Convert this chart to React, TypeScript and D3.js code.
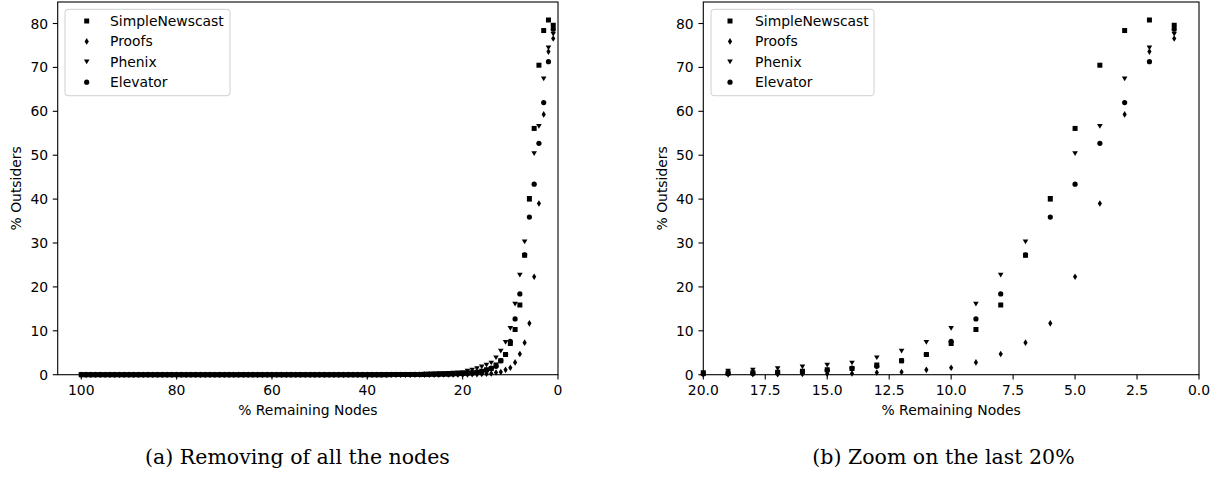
import React from 'react';
import * as d3 from 'd3';

// % remaining nodes, 1..100
const nodes = d3.range(1, 101);

// values listed for nodes = 1, 2, 3, ... 100
const simpleNewscast = [
  79.6, 80.8, 78.4, 70.5, 56.1, 40.0, 27.2, 15.9, 10.3, 7.1,
  4.6, 3.2, 2.2, 1.4, 1.1, 0.8, 0.55, 0.45, 0.4, 0.3,
  0.25, 0.2, 0.18, 0.15, 0.12, 0.1, 0.08, 0.07, 0.06, 0.05,
  0.04, 0.03, 0.03, 0.02, 0.02, 0.01, 0.01, 0.01, 0.01, 0.01,
  0, 0, 0, 0, 0, 0, 0, 0, 0, 0,
  0, 0, 0, 0, 0, 0, 0, 0, 0, 0,
  0, 0, 0, 0, 0, 0, 0, 0, 0, 0,
  0, 0, 0, 0, 0, 0, 0, 0, 0, 0,
  0, 0, 0, 0, 0, 0, 0, 0, 0, 0,
  0, 0, 0, 0, 0, 0, 0, 0, 0, 0,
];
const proofs = [
  76.6, 73.6, 59.3, 39.0, 22.3, 11.7, 7.3, 4.7, 2.8, 1.6,
  1.1, 0.6, 0.5, 0.3, 0.2, 0.15, 0.1, 0.1, 0.05, 0.05,
  0.04, 0.04, 0.03, 0.03, 0.02, 0.02, 0.02, 0.01, 0.01, 0.01,
  0, 0, 0, 0, 0, 0, 0, 0, 0, 0,
  0, 0, 0, 0, 0, 0, 0, 0, 0, 0,
  0, 0, 0, 0, 0, 0, 0, 0, 0, 0,
  0, 0, 0, 0, 0, 0, 0, 0, 0, 0,
  0, 0, 0, 0, 0, 0, 0, 0, 0, 0,
  0, 0, 0, 0, 0, 0, 0, 0, 0, 0,
  0, 0, 0, 0, 0, 0, 0, 0, 0, 0,
];
const phenix = [
  77.6, 74.5, 67.4, 56.6, 50.4, 40.2, 30.3, 22.7, 16.1, 10.6,
  7.4, 5.4, 3.9, 2.7, 2.2, 1.8, 1.4, 1.1, 0.85, 0.5,
  0.45, 0.4, 0.35, 0.3, 0.26, 0.22, 0.19, 0.16, 0.14, 0.12,
  0.1, 0.08, 0.07, 0.06, 0.05, 0.04, 0.03, 0.03, 0.02, 0.02,
  0, 0, 0, 0, 0, 0, 0, 0, 0, 0,
  0, 0, 0, 0, 0, 0, 0, 0, 0, 0,
  0, 0, 0, 0, 0, 0, 0, 0, 0, 0,
  0, 0, 0, 0, 0, 0, 0, 0, 0, 0,
  0, 0, 0, 0, 0, 0, 0, 0, 0, 0,
  0, 0, 0, 0, 0, 0, 0, 0, 0, 0,
];
const elevator = [
  78.7, 71.3, 62.0, 52.7, 43.4, 35.9, 27.3, 18.4, 12.7, 7.6,
  4.6, 3.2, 1.9, 1.5, 1.0, 0.7, 0.45, 0.35, 0.3, 0.2,
  0.18, 0.15, 0.13, 0.11, 0.09, 0.08, 0.07, 0.06, 0.05, 0.04,
  0.03, 0.03, 0.02, 0.02, 0.01, 0.01, 0.01, 0.01, 0.01, 0.01,
  0, 0, 0, 0, 0, 0, 0, 0, 0, 0,
  0, 0, 0, 0, 0, 0, 0, 0, 0, 0,
  0, 0, 0, 0, 0, 0, 0, 0, 0, 0,
  0, 0, 0, 0, 0, 0, 0, 0, 0, 0,
  0, 0, 0, 0, 0, 0, 0, 0, 0, 0,
  0, 0, 0, 0, 0, 0, 0, 0, 0, 0,
];

const seriesNames = ['SimpleNewscast', 'Proofs', 'Phenix', 'Elevator'];
const seriesValues = [simpleNewscast, proofs, phenix, elevator];
const seriesMarkers = ['square', 'diamond', 'triangle', 'circle'];

const yTicks = [0, 10, 20, 30, 40, 50, 60, 70, 80];
const xTicksFull = [100, 80, 60, 40, 20, 0];
const xTicksZoom = [20, 17.5, 15, 12.5, 10, 7.5, 5, 2.5, 0];

const W = 1228;
const H = 478;
const FONT = 'DejaVu Sans, sans-serif';
const FS = 13.9;

const markerPath: Record<string, string> = {
  square: 'M-2.5,-2.5h5v5h-5z',
  diamond: 'M0,-3.3L2.1,0L0,3.3L-2.1,0Z',
  triangle: 'M-2.8,-2.2L2.8,-2.2L0,2.5Z',
};

const Marker: React.FC<{ kind: string; x: number; y: number }> = ({ kind, x, y }) =>
  kind === 'circle' ? (
    <circle cx={x} cy={y} r={2.6} fill="#000" />
  ) : (
    <path d={markerPath[kind]} transform={`translate(${x},${y})`} fill="#000" />
  );

type PanelProps = {
  left: number;
  right: number;
  domain: [number, number];
  ticks: number[];
  fmt: (d: number) => string;
  maxNodes: number;
  legendBox: [number, number];
  legendMarkerX: number;
  legendTextX: number;
  caption: string;
  captionX: number;
};

const Panel: React.FC<PanelProps> = (p) => {
  const top = 2;
  const bottom = 374.7;
  const x = d3.scaleLinear().domain(p.domain).range([p.left, p.right]);
  const y = d3.scaleLinear().domain([0, 84.9]).range([bottom, top]);
  const idx = nodes.map((n, i) => i).filter((i) => nodes[i] <= p.maxNodes);

  return (
    <g>
      <clipPath id={`clip-${p.left}`}>
        <rect x={p.left - 4} y={top - 4} width={p.right - p.left + 8} height={bottom - top + 8} />
      </clipPath>
      <g clipPath={`url(#clip-${p.left})`}>
        {seriesValues.map((vals, s) => (
          <g key={s}>
            {idx.map((i) => (
              <Marker key={i} kind={seriesMarkers[s]} x={x(nodes[i])} y={y(vals[i])} />
            ))}
          </g>
        ))}
      </g>
      {/* frame */}
      <rect x={p.left} y={top} width={p.right - p.left} height={bottom - top} fill="none" stroke="#000" strokeWidth={1.1} />
      {/* y axis */}
      {yTicks.map((t) => (
        <g key={t}>
          <line x1={p.left - 4.9} x2={p.left} y1={y(t)} y2={y(t)} stroke="#000" strokeWidth={1.1} />
          <text x={p.left - 9.6} y={y(t)} dy="0.36em" textAnchor="end" fontFamily={FONT} fontSize={FS} fill="#000">
            {t}
          </text>
        </g>
      ))}
      {/* x axis */}
      {p.ticks.map((t) => (
        <g key={t}>
          <line x1={x(t)} x2={x(t)} y1={bottom} y2={bottom + 4.9} stroke="#000" strokeWidth={1.1} />
          <text x={x(t)} y={bottom + 20} textAnchor="middle" fontFamily={FONT} fontSize={FS} fill="#000">
            {p.fmt(t)}
          </text>
        </g>
      ))}
      <text x={(p.left + p.right) / 2} y={415} textAnchor="middle" fontFamily={FONT} fontSize={FS} fill="#000">
        % Remaining Nodes
      </text>
      <text
        transform={`translate(${p.left - 36.5},${(top + bottom) / 2}) rotate(-90)`}
        textAnchor="middle"
        fontFamily={FONT}
        fontSize={FS}
        fill="#000"
      >
        % Outsiders
      </text>
      {/* legend */}
      <rect
        x={p.legendBox[0]}
        y={9.3}
        width={p.legendBox[1] - p.legendBox[0]}
        height={86.4}
        rx={3}
        fill="#fff"
        fillOpacity={0.8}
        stroke="#d0d0d0"
        strokeWidth={1}
      />
      {seriesNames.map((name, s) => {
        const ry = 21 + s * 20.4;
        return (
          <g key={name}>
            <Marker kind={seriesMarkers[s]} x={p.legendMarkerX} y={ry} />
            <text x={p.legendTextX} y={ry} dy="0.36em" fontFamily={FONT} fontSize={FS} fill="#000">
              {name}
            </text>
          </g>
        );
      })}
      <text x={p.captionX} y={464} textAnchor="middle" fontFamily="DejaVu Serif, serif" fontSize={20.5} fill="#000">
        {p.caption}
      </text>
    </g>
  );
};

const App: React.FC = () => (
  <svg
    width={W}
    height={H}
    viewBox={`0 0 ${W} ${H}`}
    style={{ position: 'absolute', left: 0, top: 0, background: '#fff' }}
  >
    <rect width={W} height={H} fill="#fff" />
    <Panel
      left={57.7}
      right={558}
      domain={[104.95, 0]}
      ticks={xTicksFull}
      fmt={(d) => String(d)}
      maxNodes={100}
      legendBox={[65, 230]}
      legendMarkerX={86.7}
      legendTextX={110}
      caption="(a) Removing of all the nodes"
      captionX={297.5}
    />
    <Panel
      left={703.3}
      right={1199}
      domain={[20, 0]}
      ticks={xTicksZoom}
      fmt={(d) => d.toFixed(1)}
      maxNodes={20}
      legendBox={[711, 874]}
      legendMarkerX={730}
      legendTextX={755}
      caption="(b) Zoom on the last 20%"
      captionX={943.5}
    />
  </svg>
);

export default App;
